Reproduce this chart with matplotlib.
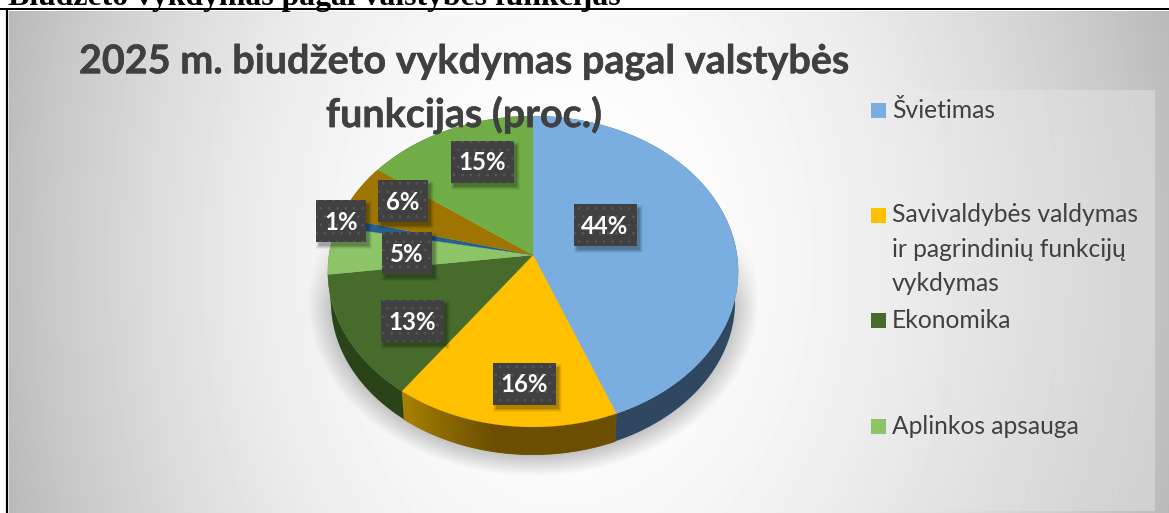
import numpy as np
import matplotlib
matplotlib.use("Agg")
import matplotlib.pyplot as plt
import matplotlib.patheffects as pe
from matplotlib.patches import Rectangle

# ---- data ----
values = [44, 16, 13, 5, 1, 6, 15]
slice_colors = ["#7BAEE0", "#FFC000", "#476B2B", "#8DC468", "#255E91", "#9E7500", "#70AD47"]
side_colors = ["#2F4760", "#8A6800", "#2B4318", "#55763E", "#163855", "#5F4600", "#43682B"]
legend_names = ["Švietimas", "Savivaldybės valdymas\nir pagrindinių funkcijų\nvykdymas", "Ekonomika", "Aplinkos apsauga"]
title_lines = ["2025 m. biudžeto vykdymas pagal valstybės", "funkcijas (proc.)"]
heading_text = "Biudžeto vykdymas pagal valstybės funkcijas"

# ---- layout (pixels) ----
W, H = 1169, 513
APEX = (533, 255)
RX, RY, K = 204, 153.7, 0.106
ELL_CY = 271
DEPTH, SIDE_SCALE = 30, 0.985
label_centers = [(605, 225), (524, 384), (412, 321), (407, 253), (341, 221), (403, 201), (482, 162)]
legend_marker_y = [110.5, 215.5, 320.5, 426.5]

plt.rcParams["font.family"] = ["Lato", "DejaVu Sans"]
plt.rcParams["hatch.linewidth"] = 0.7
fig = plt.figure(figsize=(W / 100, H / 100), dpi=100, facecolor="white")
ax = fig.add_axes([0, 0, 1, 1])
ax.axis("off")


def project(t):
    """Clockwise-from-top angle on a tilted disc -> pixel position."""
    u, v = np.sin(t), np.cos(t)
    w = 1 + K * v
    return APEX[0] + RX * u / w, APEX[1] - RY * v / w


def lower_rim(t):
    x, y = project(t)
    return APEX[0] + SIDE_SCALE * (x - APEX[0]), ELL_CY + SIDE_SCALE * (y - ELL_CY) + DEPTH


# background gradient
yy, xx = np.mgrid[11:H, 9:W]
dx = np.where(xx < 560, (560 - xx) / 551.0, (xx - 560) / 609.0)
bg = 1.0 - 0.25 * dx ** 2 - 0.025 * ((yy - 260) / 250.0) ** 2
ax.imshow(np.clip(bg, 0, 1), extent=(9, W, H, 11), cmap="gray", vmin=0, vmax=1, aspect="auto", zorder=0,
          interpolation="bilinear")
# translucent legend panel, fading out towards its left edge
xl = np.linspace(0, 1, 294)
panel = np.ones((1, 294, 4))
panel[..., 3] = 0.03 + 0.27 * xl
ax.imshow(panel, extent=(861, 1155, 511, 90), aspect="auto", zorder=1, interpolation="nearest")

# soft shadow below the pie
yy, xx = np.mgrid[200:490, 300:770]
ds = np.sqrt(((xx - 533) / 226.0) ** 2 + ((yy - 300) / 176.0) ** 2)
alpha = np.clip((1 - ds) / 0.15, 0, 1) * np.clip((yy - 225) / 80.0, 0, 1) * 0.28
shadow = np.zeros(ds.shape + (4,))
shadow[..., 3] = alpha
ax.imshow(shadow, extent=(300, 770, 490, 200), aspect="auto", zorder=1.5, interpolation="bilinear")
ax.set_xlim(0, W)
ax.set_ylim(H, 0)

# pie sides
edges = np.cumsum([0] + values) / sum(values) * 2 * np.pi
light, dark = np.array([0xA8, 0x80, 0x00]), np.array([0x6B, 0x4E, 0x00])
for i in range(len(values)):
    t0, t1 = edges[i], edges[i + 1]
    if i == 1:
        # graded side strip of the yellow slice
        steps = 60
        tt = np.linspace(t0, t1, steps + 1)
        for j in range(steps):
            seg = np.linspace(tt[j], tt[j + 1], 4)
            xa, ya = project(seg)
            xb, yb = lower_rim(seg)
            g = np.clip((j / (steps - 1) - 0.55) / 0.45, 0, 1)
            col = (dark * (1 - g) + light * g) / 255
            ax.fill(np.r_[xa, xb[::-1]], np.r_[ya, yb[::-1]], color=col, lw=0.6, zorder=2)
    else:
        ts = np.linspace(t0, t1, 120)
        x, y = project(ts)
        xb, yb = lower_rim(ts)
        ax.fill(np.r_[x, xb[::-1]], np.r_[y, yb[::-1]], color=side_colors[i], lw=0, zorder=2)

# pie top
for i in range(len(values)):
    ts = np.linspace(edges[i], edges[i + 1], 200)
    x, y = project(ts)
    ax.fill(np.r_[APEX[0], x], np.r_[APEX[1], y], color=slice_colors[i], lw=0.2, zorder=3)

# value labels
for val, (cx, cy) in zip(values, label_centers):
    bw = 63 if val >= 10 else 50
    bh = 42
    for grow, a in [(6, 0.05), (4, 0.07), (2, 0.09), (0, 0.14)]:
        ax.add_patch(Rectangle((cx - bw / 2 + 3 - grow / 2, cy - bh / 2 + 4 - grow / 2), bw + grow, bh + grow,
                               fc="black", ec="none", alpha=a, zorder=4))
    ax.add_patch(Rectangle((cx - bw / 2, cy - bh / 2), bw, bh, fc="#404040", ec="#565656", lw=0,
                           hatch="..", zorder=5))
    ax.text(cx, cy + 1, f"{val}%", color="white", fontsize=17.3, fontweight="bold", ha="center", va="center", zorder=6)

# title
stroke = [pe.withStroke(linewidth=0.35, foreground="#404040")]
for line, y in zip(title_lines, (62, 115)):
    ax.text(464, y, line, color="#404040", fontsize=28.45, fontweight="bold", ha="center", va="center", zorder=7,
            path_effects=stroke)

# legend
for name, col, y in zip(legend_names, slice_colors, legend_marker_y):
    ax.add_patch(Rectangle((871, y - 7.5), 15, 15, fc=col, ec="none", zorder=7))
    ax.text(892, y - 12, name, color="#404040", fontsize=17.7, ha="left", va="top", linespacing=1.58, zorder=7)

# page frame and clipped heading
ax.plot([0, W], [9, 9], color="black", lw=1.44, zorder=8, solid_capstyle="butt")
ax.plot([7, 7], [8, H], color="black", lw=1.6, zorder=8, solid_capstyle="butt")
ax.text(8, 5, heading_text, family="Liberation Serif", fontweight="bold", fontsize=22.9, color="black",
        va="baseline", ha="left", zorder=8)

fig.savefig("out.png", dpi=100, facecolor="white")
